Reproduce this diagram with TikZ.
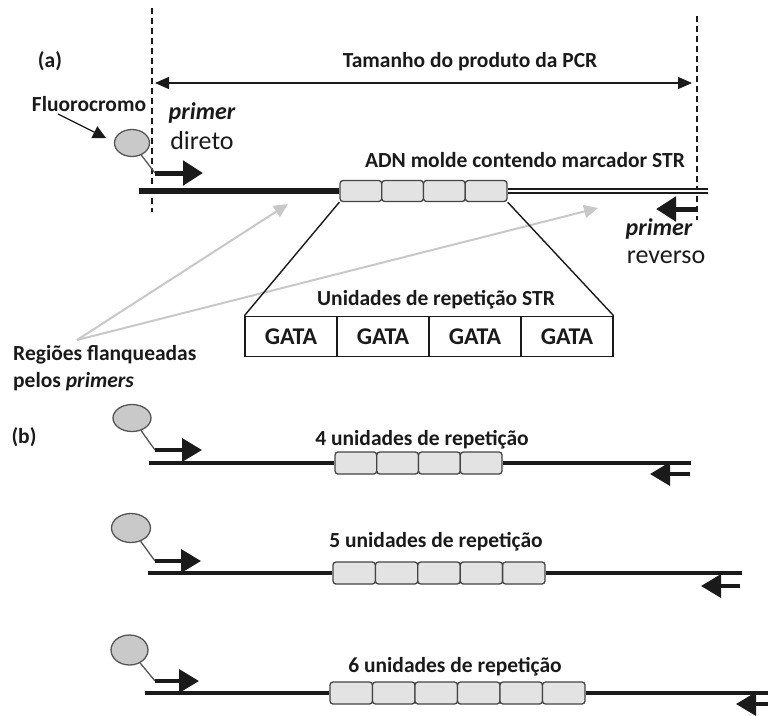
\documentclass[tikz,border=0pt]{standalone}
\usepackage{fontspec}
\setmainfont{Carlito}
\usetikzlibrary{arrows.meta,shapes.geometric}
\definecolor{fluofill}{HTML}{C9C9C9}
\definecolor{fluodraw}{HTML}{555555}
\definecolor{repfill}{HTML}{E3E3E3}
\definecolor{repdraw}{HTML}{444444}
\definecolor{ink}{HTML}{1A1A1A}
\definecolor{pale}{HTML}{C8C8C8}
\begin{document}
\begin{tikzpicture}[x=1pt,y=-1pt,
  lbl/.style={font=\fontsize{21.5}{24}\selectfont\bfseries, inner sep=0pt, text=ink},
  prim/.style={font=\fontsize{24}{26}\selectfont\bfseries\itshape, inner sep=0pt, text=ink},
  primreg/.style={font=\fontsize{26}{28}\selectfont, inner sep=0pt, text=ink},
  gata/.style={draw=ink, line width=1.4pt, minimum width=92pt, minimum height=40pt, inner sep=0pt,
    font=\fontsize{24}{26}\selectfont\bfseries, text=ink},
  fluor/.style={ellipse, draw=fluodraw, fill=fluofill, line width=1.3pt, inner sep=0pt},
  rep/.style={draw=repdraw, fill=repfill, rounded corners=3pt, line width=1.3pt, inner sep=0pt},
  dashln/.style={draw=ink, line width=1.3pt, dash pattern=on 6pt off 4pt},
  dimarrow/.style={draw=ink, line width=1.3pt, {Triangle[length=14pt,width=12pt]}-{Triangle[length=14pt,width=12pt]}},
  thinarrow/.style={draw=ink, line width=1.2pt, -{Triangle[length=13pt,width=13pt]}},
  palearrow/.style={draw=pale, line width=2pt, -{Triangle[length=14pt,width=13pt]}},
  stalk/.style={draw=fluodraw, line width=1.3pt},
  primerA/.style={draw=ink, line width=5pt, -{Triangle[length=20pt,width=24pt]}},
  primerB/.style={draw=ink, line width=3.6pt, -{Triangle[length=20pt,width=23pt]}},
  dnaA/.style={draw=ink, line width=5.5pt},
  dnaB/.style={draw=ink, line width=3.6pt},
  trap/.style={draw=ink, line width=1.4pt}]
\useasboundingbox (0,0) rectangle (768,715);

% ---------------- (a) ----------------
\node[lbl] (la) at (50,61) {(a)};
\coordinate (dlt) at (152,8);
\coordinate (dlb) at (152,212);
\coordinate (drt) at (697,16);
\coordinate (drb) at (697,220);
\draw[dashln] (dlt) -- (dlb);
\draw[dashln] (drt) -- (drb);
\coordinate (pl) at (155,83);
\coordinate (pr) at (692,83);
\draw[dimarrow] (pl) -- (pr);
\node[lbl] (tam) at (470,62) {Tamanho do produto da PCR};

\node[lbl] (fl) at (89,104) {Fluorocromo};
\coordinate (fls) at (58,114);
\coordinate (flt) at (106,138);
\draw[thinarrow] (fls) -- (flt);

\node[fluor, minimum width=35pt, minimum height=27pt] (fa) at (132,143) {};
\coordinate (sa) at (155,173);
\draw[stalk] (fa) -- (sa);
\coordinate (pta) at (203,173);
\draw[primerA] (sa) -- (pta);
\node[prim] (pd1) at (202,113) {primer};
\node[primreg] (pd2) at (202,141) {direto};

\foreach \k in {1,...,4}
  \node[rep, minimum width=41.75pt, minimum height=21pt] (a\k) at ({340+(\k-0.5)*41.75},191) {};
\coordinate (dnaL) at (139,191);
\draw[dnaA] (dnaL) -- (a1.west);
\coordinate (dnaR) at (708,191);
\draw[draw=ink, line width=6pt] (a4.east) -- (dnaR);
\draw[draw=white, line width=1.6pt] (a4.east) -- (dnaR);
\node[lbl] (adn) at (525,160) {ADN molde contendo marcador STR};

\coordinate (rva) at (697,209);
\coordinate (rvt) at (656,209);
\draw[primerA] (rva) -- (rvt);
\node[prim] (pr1) at (659,229) {primer};
\node[primreg] (pr2) at (666,257) {reverso};

% flanking regions
\node[lbl, anchor=west] (rg1) at (13,355) {Regiões flanqueadas};
\node[lbl, anchor=west] (rg2) at (13,382) {pelos \textit{primers}};
\coordinate (rgp) at (77,340);
\coordinate (rgt1) at (288,204);
\coordinate (rgt2) at (598,208);
\draw[palearrow] (rgp) -- (rgt1);
\draw[palearrow] (rgp) -- (rgt2);

% GATA table
\foreach \k in {1,...,4}
  \node[gata] (g\k) at ({245+(\k-0.5)*92},336.5) {GATA};
\draw[trap] (a1.south west) -- (g1.north west);
\draw[trap] (a4.south east) -- (g4.north east);
\node[lbl] (uni) at (436,300) {Unidades de repetição STR};

% ---------------- (b) ----------------
\node[lbl] (lb) at (24,437) {(b)};

\foreach \r/\n/\cx/\cy/\cw/\ch/\py/\pt/\dy/\dl/\bx/\bw/\de/\ry/\rs/\rt/\lx/\ly in {
  1/4/132/418/38/27/450/202/463/149/335/41.75/691/474/690/650/422/440,
  2/5/131/528/39/29/561/201/573/148/333/42.4/742/586/740/701/436/542,
  3/6/129.5/650/37/30/681/199/693/145/330/42.5/768/704/768/736/455/667}{
  \node[fluor, minimum width=\cw pt, minimum height=\ch pt] (f\r) at (\cx,\cy) {};
  \coordinate (s\r) at (155,\py);
  \draw[stalk] (f\r) -- (s\r);
  \coordinate (p\r) at (\pt,\py);
  \draw[primerB] (s\r) -- (p\r);
  \foreach \k in {1,...,\n}
    \node[rep, minimum width=\bw pt, minimum height=22pt] (b\r-\k) at ({\bx+(\k-0.5)*\bw},\dy) {};
  \coordinate (l\r) at (\dl,\dy);
  \coordinate (e\r) at (\de,\dy);
  \draw[dnaB] (l\r) -- (b\r-1.west);
  \draw[dnaB] (b\r-\n.east) -- (e\r);
  \coordinate (q\r) at (\rs,\ry);
  \coordinate (t\r) at (\rt,\ry);
  \draw[primerB] (q\r) -- (t\r);
  \node[lbl] (u\r) at (\lx,\ly) {\n\ unidades de repetição};
}
\end{tikzpicture}
\end{document}
